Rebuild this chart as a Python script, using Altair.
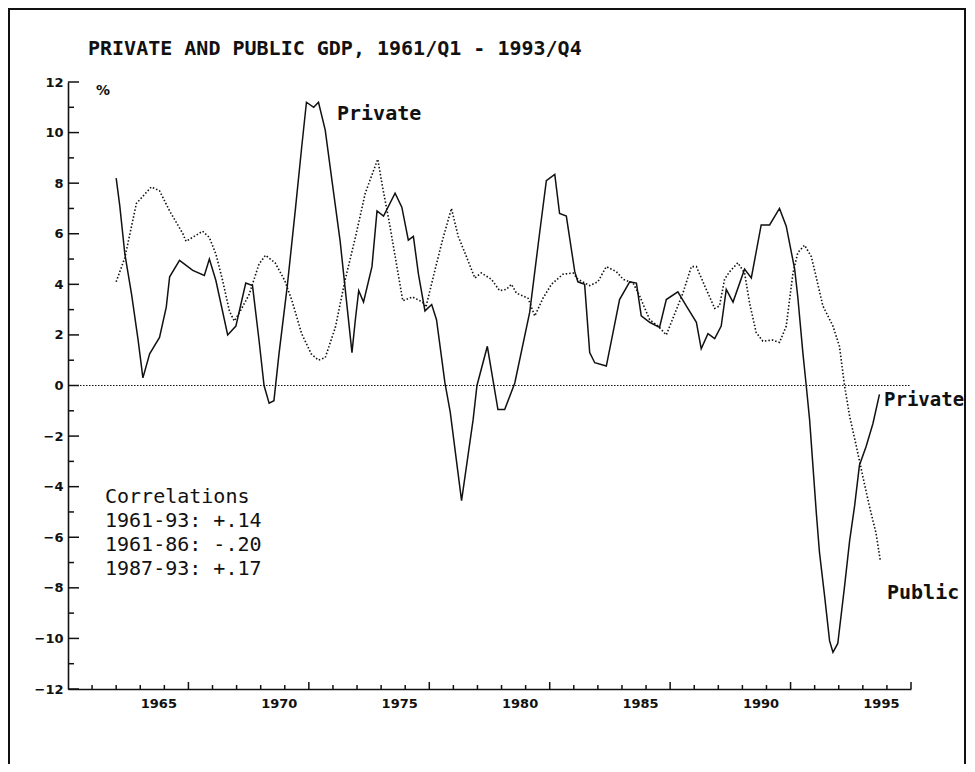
import altair as alt
import pandas as pd

# ---------------- data ----------------
private_t = [1962.0, 1962.15, 1962.36, 1962.64, 1962.91, 1963.11, 1963.39, 1963.8, 1964.08, 1964.22,
             1964.63, 1965.18, 1965.66, 1965.87, 1966.14, 1966.63, 1966.97, 1967.38, 1967.66, 1967.93,
             1968.14, 1968.35, 1968.55, 1968.76, 1969.1, 1969.45, 1969.7, 1969.9, 1970.2, 1970.4,
             1970.68, 1970.96, 1971.3, 1971.5, 1971.79, 1971.93, 1972.07, 1972.27, 1972.62, 1972.83,
             1973.1, 1973.58, 1973.86, 1974.13, 1974.34, 1974.55, 1974.82, 1975.1, 1975.3, 1975.65,
             1975.87, 1976.34, 1976.82, 1976.98, 1977.41, 1977.85, 1978.13, 1978.55, 1979.17, 1979.59,
             1979.86, 1980.21, 1980.41, 1980.69, 1981.04, 1981.17, 1981.45, 1981.66, 1981.87, 1982.35,
             1982.63, 1982.9, 1983.32, 1983.6, 1983.8, 1984.15, 1984.56, 1984.84, 1985.32, 1985.67,
             1986.09, 1986.29, 1986.57, 1986.85, 1987.12, 1987.33, 1987.61, 1988.09, 1988.37, 1988.78,
             1989.13, 1989.54, 1989.82, 1990.17, 1990.3, 1990.51, 1990.65, 1990.79, 1991.07, 1991.2,
             1991.41, 1991.62, 1991.76, 1991.96, 1992.24, 1992.45, 1992.66, 1992.86, 1993.14, 1993.42,
             1993.69]
private_v = [8.2, 7.1, 5.2, 3.6, 1.8, 0.3, 1.25, 1.9, 3.1, 4.3,
             4.95, 4.55, 4.35, 5.0, 4.15, 2.0, 2.35, 4.05, 3.95, 1.8,
             0.0, -0.7, -0.6, 1.25, 3.9, 7.05, 9.4, 11.2, 11.0, 11.2,
             10.1, 8.1, 5.7, 3.9, 1.3, 2.6, 3.75, 3.3, 4.7, 6.9,
             6.7, 7.6, 7.05, 5.75, 5.9, 4.4, 2.95, 3.2, 2.6, 0.1,
             -1.05, -4.55, -1.35, 0.0, 1.55, -0.95, -0.95, 0.1, 2.9, 6.1,
             8.1, 8.35, 6.8, 6.7, 4.5, 4.1, 4.0, 1.3, 0.9, 0.77,
             2.1, 3.4, 4.1, 4.05, 2.75, 2.5, 2.3, 3.4, 3.7, 3.15,
             2.5, 1.45, 2.05, 1.85, 2.35, 3.8, 3.3, 4.6, 4.25, 6.35,
             6.35, 7.0, 6.3, 4.6, 3.5, 1.3, 0.0, -1.35, -5.05, -6.6,
             -8.3, -10.1, -10.55, -10.2, -7.95, -6.15, -4.75, -3.15, -2.4, -1.5,
             -0.35]

public_t = [1962.0, 1962.36, 1962.84, 1963.46, 1963.8, 1964.22, 1964.77, 1964.9, 1965.59, 1965.87,
            1966.14, 1966.42, 1966.7, 1966.9, 1967.1, 1967.52, 1967.93, 1968.2, 1968.6, 1969.0,
            1969.3, 1969.7, 1970.1, 1970.4, 1970.68, 1971.1, 1971.5, 1971.93, 1972.34, 1972.86,
            1973.06, 1973.33, 1973.9, 1974.3, 1974.72, 1974.86, 1975.27, 1975.55, 1975.92, 1976.2,
            1976.54, 1976.89, 1977.16, 1977.58, 1977.92, 1978.2, 1978.41, 1978.62, 1979.1, 1979.38,
            1979.72, 1980.07, 1980.55, 1980.97, 1981.17, 1981.66, 1982.0, 1982.35, 1982.77, 1983.05,
            1983.46, 1983.73, 1984.15, 1984.5, 1984.84, 1985.26, 1985.53, 1985.88, 1986.09, 1986.43,
            1986.85, 1987.05, 1987.26, 1987.47, 1987.81, 1988.09, 1988.3, 1988.57, 1988.85, 1989.26,
            1989.54, 1989.82, 1990.1, 1990.3, 1990.58, 1990.86, 1991.06, 1991.34, 1991.76, 1992.03,
            1992.24, 1992.45, 1992.73, 1993.0, 1993.28, 1993.55, 1993.73]
public_v = [4.1, 5.05, 7.2, 7.85, 7.7, 6.9, 6.0, 5.7, 6.1, 5.85,
            5.2, 4.15, 2.95, 2.55, 2.85, 3.6, 4.8, 5.15, 4.85, 4.15,
            3.35, 2.05, 1.25, 1.0, 1.1, 2.3, 4.15, 5.85, 7.6, 8.95,
            7.85, 6.5, 3.35, 3.5, 3.3, 3.1, 4.7, 5.75, 7.0, 5.9,
            5.1, 4.25, 4.45, 4.2, 3.75, 3.8, 4.0, 3.65, 3.45, 2.75,
            3.45, 4.0, 4.4, 4.45, 4.2, 3.95, 4.1, 4.7, 4.5, 4.2,
            4.05, 3.55, 2.6, 2.35, 2.0, 3.0, 3.65, 4.7, 4.7, 3.95,
            3.05, 3.15, 4.2, 4.5, 4.85, 4.45, 3.25, 2.1, 1.75, 1.8,
            1.7, 2.35, 4.45, 5.25, 5.55, 5.1, 4.3, 3.15, 2.35, 1.55,
            0.0, -1.2, -2.4, -3.6, -4.8, -5.85, -6.95]

x_major = [1965, 1970, 1975, 1980, 1985, 1990, 1995]
x_minor = [1961, 1962, 1963, 1964, 1966, 1967, 1968, 1969, 1971, 1972, 1973, 1974,
           1976, 1977, 1978, 1979, 1981, 1982, 1983, 1984, 1986, 1987, 1988, 1989,
           1991, 1992, 1993, 1994]
y_major = [-12, -10, -8, -6, -4, -2, 0, 2, 4, 6, 8, 10, 12]
y_minor = [-11, -9, -7, -5, -3, -1, 1, 3, 5, 7, 9, 11]
zero_level = [0]

title_text = "PRIVATE AND PUBLIC GDP, 1961/Q1 - 1993/Q4"
corr_lines = ["Correlations", "1961-93: +.14", "1961-86: -.20", "1987-93: +.17"]

# ---------------- layout ----------------
W, H = 843, 607
INK = "#111111"
MONO = "DejaVu Sans Mono"
SANS = "DejaVu Sans"

xs = alt.Scale(domain=[1960, 1995], nice=False, zero=False)
ys = alt.Scale(domain=[-12, 12], nice=False, zero=False)

x_axis = alt.Axis(values=x_major, format="d", labelAlign="right", labelOffset=-12,
                  labelPadding=8, ticks=False, grid=False, title=None,
                  domainColor=INK, domainWidth=1.6, labelFont=SANS, labelFontWeight="bold",
                  labelFontSize=13, labelColor=INK, labelFlush=False, labelOverlap=False)
y_axis = alt.Axis(values=y_major, format="d", labelPadding=5, ticks=False, grid=False,
                  title=None, domainColor=INK, domainWidth=1.6, labelFont=SANS,
                  labelFontWeight="bold", labelFontSize=13, labelColor=INK,
                  labelFlush=False, labelOverlap=False, labelBaseline="middle")


def X():
    return alt.X("t:Q", scale=xs, axis=x_axis)


def Y():
    return alt.Y("v:Q", scale=ys, axis=y_axis)


df_priv = pd.DataFrame({"t": private_t, "v": private_v})
df_pub = pd.DataFrame({"t": public_t, "v": public_v})

private_line = alt.Chart(df_priv).mark_line(color=INK, strokeWidth=1.5).encode(x=X(), y=Y())
public_line = alt.Chart(df_pub).mark_line(color=INK, strokeWidth=1.6, strokeDash=[1.5, 2]).encode(
    x=X(), y=Y())

zero_rule = alt.Chart(pd.DataFrame({"v": zero_level})).mark_rule(
    color=INK, strokeWidth=1.2, strokeDash=[1.5, 1.5]).encode(
    y=Y(), x=alt.value(0), x2=alt.value(W))

xmaj = alt.Chart(pd.DataFrame({"t": x_major})).mark_rule(color=INK, strokeWidth=1.5).encode(
    x=X(), y=alt.value(H), y2=alt.value(H - 7))
xmin = alt.Chart(pd.DataFrame({"t": x_minor})).mark_rule(color=INK, strokeWidth=1.5).encode(
    x=X(), y=alt.value(H), y2=alt.value(H - 4))
ymaj = alt.Chart(pd.DataFrame({"v": y_major})).mark_rule(color=INK, strokeWidth=1.5).encode(
    y=Y(), x=alt.value(0), x2=alt.value(11))
ymin = alt.Chart(pd.DataFrame({"v": y_minor})).mark_rule(color=INK, strokeWidth=1.5).encode(
    y=Y(), x=alt.value(0), x2=alt.value(6))

one = pd.DataFrame({"k": [0]})


def label(text, x, y, font=MONO, size=20, weight="bold"):
    return alt.Chart(one).mark_text(align="left", baseline="middle", font=font,
                                    fontSize=size, fontWeight=weight, color=INK).encode(
        x=alt.value(x), y=alt.value(y), text=alt.value(text))


texts = [
    label(title_text, 20, -33),
    label("%", 28, 9, font=SANS, size=14),
    label("Private", 269, 32),
    label("Private", 816, 318, size=19),
    label("Public", 819, 511),
]
for i, line in enumerate(corr_lines):
    texts.append(label(line, 37, 415 + i * 24, weight="normal"))

frame = alt.Chart(one).mark_rect(fillOpacity=0, stroke=INK, strokeWidth=2).encode(
    x=alt.value(-59), x2=alt.value(897), y=alt.value(-73), y2=alt.value(740))

chart = alt.layer(frame, zero_rule, xmaj, xmin, ymaj, ymin, public_line, private_line, *texts).properties(
    width=W, height=H,
    padding={"left": 60, "top": 74, "right": 56, "bottom": 75},
    autosize=alt.AutoSizeParams(type="none"),
    background="white",
).configure_view(stroke=None)

chart.save("out.html", embed_options={"renderer": "svg", "actions": False})
